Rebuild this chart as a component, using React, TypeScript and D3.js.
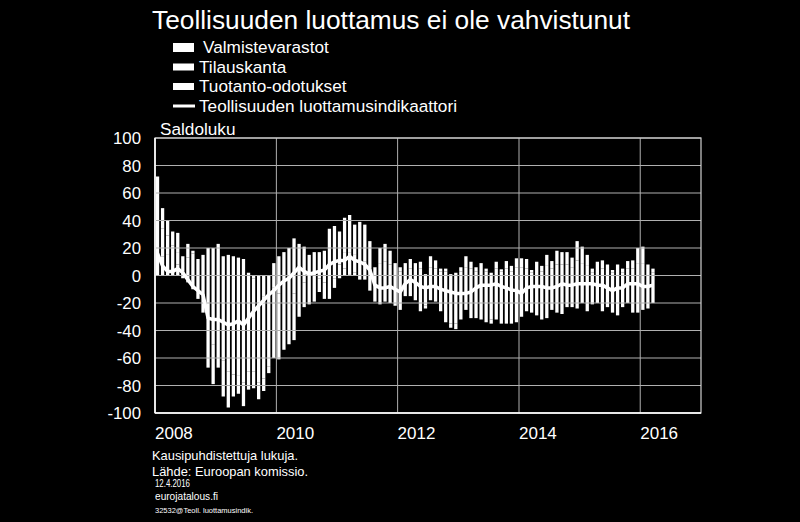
import React from "react";
import * as d3 from "d3";

const title = "Teollisuuden luottamus ei ole vahvistunut";
const seriesNames = ["Valmistevarastot", "Tilauskanta", "Tuotanto-odotukset"];
const lineName = "Teollisuuden luottamusindikaattori";
const yAxisTitle = "Saldoluku";
const footnotes = [
  "Kausipuhdistettuja  lukuja.",
  "Lähde: Euroopan komissio.",
  "12.4.2016",
  "eurojatalous.fi",
  "32532@Teoll. luottamusindik.",
];

// monthly data Jan 2008 .. Mar 2016
const valmistevarastot = [
  12, 14, 15, 12, 8, 3, 13, 16, 12, 15, 20, 20, 23, 14, 15, 14, 13, 12, 2, -2,
  -12, -15, -14, -9, -13, -12, -12, -13, -12, -5, -4, -4, -2, -5, -4, -2, -2, 5, 1, 2,
  -3, -3, 5, 4, 9, 10, 8, 4, 3, 4, 5, 4, 5, 1, 6, 5, 3, 3, 1, 2,
  3, 6, 5, 3, 4, 3, 2, 5, 3, 5, 3, 6, 6, 5, 2, 4, 3, 7, 5, 8,
  8, 8, 6, 11, 9, 7, 2, 4, 5, 4, 2, 4, 2, 5, 5, 9, 9, 4, 2,
];
const tilauskanta = [
  32, 20, 14, 10, 9, -2, -5, -10, -12, -20, -40, -50, -52, -62, -70, -72, -73, -78, -70, -68,
  -66, -60, -52, -51, -48, -42, -38, -34, -18, -18, -17, -15, -10, -12, -13, -7, 8, 12, 16, 13,
  12, 10, -11, -19, -21, -19, -20, -22, -25, -15, -15, -18, -26, -22, -18, -19, -26, -34, -35, -35,
  -32, -25, -31, -31, -32, -34, -32, -32, -35, -35, -35, -34, -30, -26, -27, -29, -32, -31, -25, -27,
  -28, -23, -23, -24, -20, -26, -21, -20, -26, -23, -27, -29, -23, -20, -27, -27, -25, -24, -20,
];
const tuotantoOdotukset = [
  28, 15, 11, 10, 14, 11, 10, 2, -5, -7, -27, -29, -15, -26, -26, -16, -13, -17, -13, -12,
  -12, -9, -5, 9, 14, 17, 20, 27, 23, 21, 15, 17, 17, 18, 34, 36, 24, 25, 27, 22,
  27, 27, 20, 2, 11, 13, 10, 5, 3, 5, 7, 5, 5, -2, 8, 6, 2, 2, -3, -4,
  3, 8, 5, 3, 5, 2, -3, 5, 1.5, 5.5, 4, 6.5, 6.5, 7, 2, 6, 4, 8, 5.5, 10,
  9, 9, 7, 14, 12, 8, 3, 6, 6, 4, 2, 4, 3, 5.5, 6, 11, 12, 4, 3,
];
const luottamusindikaattori = [
  16, 7, 3, 3, 5, 2, -3, -8, -11, -14, -31, -32, -32, -34, -36, -35, -33, -36, -31, -26,
  -22, -18, -14, -11, -7, -4, -2, 2, 6, 3, 1, 2, 3, 4, 8, 10, 11, 11, 14, 11,
  10, 8, 4, -7, -9, -9, -8, -10, -12, -6, -3, -5, -8, -9, -8, -8, -10, -11, -12, -13,
  -13, -13, -12, -9, -7, -7, -7, -6, -8, -9, -10.5, -11, -13, -9, -8, -8, -8, -9, -9, -8,
  -6, -7, -7, -6, -6, -6, -6, -7, -7, -9, -11, -9, -9, -6, -6, -6, -8, -8, -7,
];
const yTicks = [100, 80, 60, 40, 20, 0, -20, -40, -60, -80, -100];
const yearTicks = [2008, 2010, 2012, 2014, 2016];

const FONT = "'Liberation Sans', Arial, Helvetica, sans-serif";

export default function App() {
  const W = 800, H = 522;
  const left = 155, right = 701, top = 138, bottom = 413;

  const allMonths = d3.timeMonth.range(new Date(2008, 0, 1), new Date(2017, 0, 1));
  const dataMonths = allMonths.slice(0, valmistevarastot.length);
  const x = d3.scaleBand<number>().domain(d3.range(allMonths.length)).range([left, right]).paddingInner(0.35).paddingOuter(0.175);
  const xt = d3.scaleTime().domain([new Date(2008, 0, 1), new Date(2017, 0, 1)]).range([left, right]);
  const y = d3.scaleLinear().domain([-100, 100]).range([bottom, top]);

  const rows = dataMonths.map((m, i) => ({
    i,
    v: valmistevarastot[i],
    t: tilauskanta[i],
    p: tuotantoOdotukset[i],
  }));
  const stack = d3.stack<any>().keys(["v", "t", "p"]).offset(d3.stackOffsetDiverging);
  const layers = stack(rows);

  const line = d3
    .line<number>()
    .x((_, i) => (x(i) as number) + x.bandwidth() / 2)
    .y((d) => y(d))
    .curve(d3.curveLinear);

  const gridColor = "#b0b0b0";

  return (
    <div style={{ position: "fixed", left: 0, top: 0, width: W, height: H, background: "#000" }}>
      <svg width={W} height={H} style={{ display: "block" }} fontFamily={FONT}>
        <rect x={0} y={0} width={W} height={H} fill="#000" />
        <text x={152} y={29} fill="#fff" fontSize={26.3}>{title}</text>

        {/* legend */}
        <rect x={173} y={43} width={21} height={9} fill="#fff" />
        <rect x={173} y={63.5} width={21} height={7} fill="#fff" />
        <rect x={173} y={83} width={21} height={7} fill="#fff" />
        <line x1={173} x2={195} y1={106} y2={106} stroke="#fff" strokeWidth={3} />
        <text x={203} y={53} fill="#fff" fontSize={17.2}>{seriesNames[0]}</text>
        <text x={199} y={72.5} fill="#fff" fontSize={17.2}>{seriesNames[1]}</text>
        <text x={199} y={92} fill="#fff" fontSize={17.2}>{seriesNames[2]}</text>
        <text x={199} y={111.5} fill="#fff" fontSize={17.2}>{lineName}</text>

        <text x={160} y={135} fill="#fff" fontSize={17.2}>{yAxisTitle}</text>

        {/* bars */}
        {layers.map((layer, li) => (
          <g key={"l" + li} fill="#fff">
            {layer.map((d, i) => {
              const y0 = y(d[0]);
              const y1 = y(d[1]);
              return (
                <rect
                  key={i}
                  x={x(i) as number}
                  width={x.bandwidth()}
                  y={Math.min(y0, y1)}
                  height={Math.abs(y0 - y1)}
                />
              );
            })}
          </g>
        ))}

        {/* grid (drawn over the bars, as in the reference) */}
        {yTicks.map((t) => (
          <line key={"h" + t} x1={left} x2={right} y1={y(t)} y2={y(t)} stroke={gridColor} strokeWidth={1} />
        ))}
        {yearTicks.map((yr) => (
          <line key={"v" + yr} x1={xt(new Date(yr, 0, 1))} x2={xt(new Date(yr, 0, 1))} y1={top} y2={bottom} stroke={gridColor} strokeWidth={1} />
        ))}
        <rect x={left} y={top} width={right - left} height={bottom - top} fill="none" stroke="#d0d0d0" strokeWidth={1.2} />
        <line x1={left} x2={left} y1={top} y2={bottom} stroke="#fff" strokeWidth={1.5} />
        <line x1={left} x2={right} y1={bottom} y2={bottom} stroke="#fff" strokeWidth={1.5} />

        {/* line */}
        <path d={line(luottamusindikaattori) || ""} fill="none" stroke="#fff" strokeWidth={3.5} strokeLinejoin="round" />

        {/* y tick labels */}
        {yTicks.map((t) => (
          <text key={"yl" + t} x={141} y={y(t) + 6} fill="#fff" fontSize={16.8} textAnchor="end">{t}</text>
        ))}
        {/* x tick labels */}
        {yearTicks.map((yr) => (
          <text key={"xl" + yr} x={xt(new Date(yr, 0, 1))} y={439} fill="#fff" fontSize={17}>{yr}</text>
        ))}

        {/* footnotes */}
        <text x={152} y={460} fill="#fff" fontSize={13} textLength={146} lengthAdjust="spacingAndGlyphs">{footnotes[0]}</text>
        <text x={152} y={476} fill="#fff" fontSize={13} textLength={156} lengthAdjust="spacingAndGlyphs">{footnotes[1]}</text>
        <text x={155} y={486.5} fill="#fff" fontSize={10} textLength={35} lengthAdjust="spacingAndGlyphs">{footnotes[2]}</text>
        <text x={155} y={500} fill="#fff" fontSize={10.5} textLength={63} lengthAdjust="spacingAndGlyphs">{footnotes[3]}</text>
        <text x={155} y={513} fill="#fff" fontSize={7.5} textLength={98} lengthAdjust="spacingAndGlyphs">{footnotes[4]}</text>
      </svg>
    </div>
  );
}
